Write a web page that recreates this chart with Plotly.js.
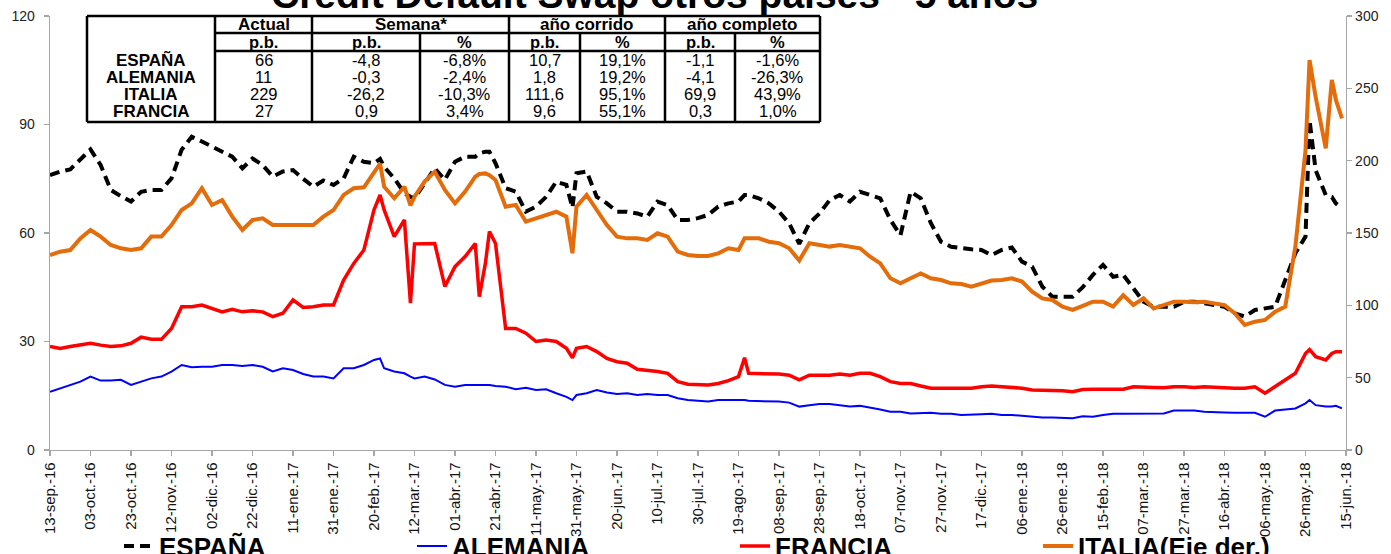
<!DOCTYPE html>
<html>
<head>
<meta charset="utf-8">
<script src="https://cdn.plot.ly/plotly-3.0.1.min.js"></script>
<style>
  html, body { margin: 0; padding: 0; background: #fff; overflow: hidden; }
  #chart { width: 1391px; height: 554px; }
</style>
</head>
<body>
<div id="chart"></div>
<script>
// ---------------- DATA ----------------
var dates = [
"2016-09-13","2016-09-18","2016-09-23","2016-09-28","2016-10-03","2016-10-08","2016-10-13","2016-10-18","2016-10-23","2016-10-28",
"2016-11-02","2016-11-07","2016-11-12","2016-11-17","2016-11-22","2016-11-27","2016-12-02","2016-12-07","2016-12-12","2016-12-17",
"2016-12-22","2016-12-27","2017-01-01","2017-01-06","2017-01-11","2017-01-16","2017-01-21","2017-01-26","2017-01-31","2017-02-05",
"2017-02-10","2017-02-15","2017-02-20","2017-02-23","2017-02-25","2017-03-02","2017-03-07","2017-03-10","2017-03-12","2017-03-17",
"2017-03-22","2017-03-27","2017-04-01","2017-04-06","2017-04-11","2017-04-13","2017-04-16","2017-04-18","2017-04-21","2017-04-26",
"2017-05-01","2017-05-06","2017-05-11","2017-05-16","2017-05-21","2017-05-26","2017-05-29","2017-05-31","2017-06-05","2017-06-10",
"2017-06-15","2017-06-20","2017-06-25","2017-06-30","2017-07-05","2017-07-10","2017-07-15","2017-07-20","2017-07-25","2017-07-30",
"2017-08-04","2017-08-09","2017-08-14","2017-08-19","2017-08-22","2017-08-24","2017-08-29","2017-09-03","2017-09-08","2017-09-13",
"2017-09-18","2017-09-23","2017-09-28","2017-10-03","2017-10-08","2017-10-13","2017-10-18","2017-10-23","2017-10-28","2017-11-02",
"2017-11-07","2017-11-12","2017-11-17","2017-11-22","2017-11-27","2017-12-02","2017-12-07","2017-12-12","2017-12-17","2017-12-22",
"2017-12-27","2018-01-01","2018-01-06","2018-01-11","2018-01-16","2018-01-21","2018-01-26","2018-01-31","2018-02-05","2018-02-10",
"2018-02-15","2018-02-20","2018-02-25","2018-03-02","2018-03-07","2018-03-12","2018-03-17","2018-03-22","2018-03-27","2018-04-01",
"2018-04-06","2018-04-11","2018-04-16","2018-04-21","2018-04-26","2018-05-01","2018-05-06","2018-05-11","2018-05-16","2018-05-21",
"2018-05-26","2018-05-28","2018-05-31","2018-06-05","2018-06-08","2018-06-10","2018-06-13"
];

var espana = [
76, 77, 77.6, 80.2, 83.1, 78.8, 71.9, 70.2, 68.7, 71.4,
71.9, 71.9, 75.1, 83, 86.6, 85.3, 83.9, 82.5, 81.1, 77.9,
80.6, 78.8, 75.6, 77, 77.4, 75, 72.8, 74.5, 73.3, 75.1,
81.1, 79.7, 79.3, 80.5, 78.3, 75.1, 71, 70, 69.6, 73.7,
77.9, 74.7, 79.7, 81.1, 81.1, 82, 82.5, 82.5, 79.3, 72.4,
71.4, 65.9, 67.3, 70, 74.2, 73.3, 67, 76.5, 77, 70,
68.2, 65.9, 65.9, 65.4, 64.5, 68.7, 67.7, 63.6, 63.6, 64.1,
65, 67.3, 68.2, 68.7, 70.5, 70.5, 69.6, 68.2, 65.9, 62.7,
57, 62.7, 65.4, 69.1, 70.5, 68.7, 71.4, 70.5, 69.6, 63.6,
59.4, 71.4, 69.6, 62.7, 57.6, 56.2, 55.8, 55.5, 55.3, 53.9,
55.3, 56, 52.1, 50.7, 45.2, 42.4, 42.4, 42.4, 45, 48.4,
51.2, 47.9, 48.4, 44.7, 41, 39.6, 39.6, 39.6, 41, 41,
40.6, 40.1, 39.6, 37.8, 36.9, 38.7, 39.2, 39.6, 47, 54.4,
59, 91.2, 77.4, 70.5, 70, 68.2, 66.8
];

var alemania = [
16.1, 17.1, 18, 18.9, 20.3, 19.2, 19.2, 19.4, 18, 18.9,
19.8, 20.3, 21.7, 23.5, 22.9, 23, 23, 23.5, 23.5, 23.2,
23.5, 23, 21.7, 22.6, 22.1, 21, 20.3, 20.3, 19.8, 22.6,
22.6, 23.5, 24.9, 25.3, 22.6, 21.7, 21.2, 20.3, 19.8, 20.3,
19.5, 18, 17.5, 18, 18, 18, 18.2, 18, 17.7, 17.5,
16.8, 17.2, 16.6, 16.8, 15.7, 14.7, 13.8, 15.2, 15.7, 16.6,
15.9, 15.5, 15.7, 15.2, 15.5, 15.2, 15.2, 14.3, 13.8, 13.6,
13.4, 13.8, 13.8, 14, 13.8, 13.6, 13.6, 13.6, 13.4, 13.1,
12, 12.4, 12.7, 12.7, 12.4, 12, 12.2, 11.8, 11.2, 10.6,
10.6, 10.1, 10.1, 10.3, 10, 10, 9.7, 9.7, 9.9, 10,
9.7, 9.7, 9.4, 9.2, 9, 9, 8.8, 8.8, 9.3, 9.2,
9.7, 10, 10, 10, 10.1, 10.1, 10.1, 10.9, 10.9, 10.9,
10.6, 10.6, 10.4, 10.3, 10.3, 10.3, 9.2, 10.9, 11.2, 11.5,
12.9, 13.8, 12.4, 12, 12, 12.2, 11.5
];

var francia = [
28.6, 28.1, 28.6, 29, 29.5, 29, 28.6, 28.8, 29.5, 31.2,
30.6, 30.6, 33.6, 39.6, 39.6, 40.1, 39.2, 38.2, 38.9, 38.2,
38.5, 38.2, 36.9, 37.8, 41.5, 39.4, 39.6, 40.1, 40.1, 47,
51.6, 55.3, 66.4, 70.5, 66.4, 59, 63.6, 40.6, 57, 57.1,
57.1, 45.2, 50.7, 53.5, 57.1, 42.4, 51.6, 60.4, 57.1, 33.6,
33.6, 32.3, 30, 30.4, 30, 28.1, 25.5, 28.1, 28.6, 27.2,
25.3, 24.4, 24, 22.3, 22.1, 21.7, 21.2, 18.9, 18.2, 18,
18, 18.4, 19.2, 20.3, 25.5, 21.2, 21.2, 21.2, 21, 20.7,
19.4, 20.7, 20.7, 20.7, 21, 20.7, 21.2, 21.2, 20.3, 18.9,
18.4, 18.4, 17.7, 17.1, 17.1, 17.1, 17.1, 17.1, 17.5, 17.7,
17.5, 17.3, 17.1, 16.6, 16.6, 16.6, 16.4, 16.1, 16.7, 16.8,
16.8, 16.6, 16.8, 17.5, 17.5, 17.3, 17.2, 17.5, 17.5, 17.3,
17.5, 17.3, 17.3, 17.1, 17.1, 17.5, 15.7, 17.5, 19.4, 21.2,
26.7, 27.8, 25.8, 24.9, 26.7, 27.2, 27.2
];

var italia = [
134.8, 137.1, 138.2, 146.3, 152.1, 147.5, 141.7, 139.4, 138.2, 139.4,
147.5, 147.5, 155.5, 165.9, 170.5, 181, 169.4, 172.8, 161.3, 152.1,
159, 160.1, 155.5, 155.5, 155.5, 156, 155.5, 161.3, 165.9, 176.3,
180.9, 181.6, 192.4, 198, 182, 174, 182, 169, 175.1, 185.5,
192.4, 179.7, 170.5, 178.6, 188.9, 190.8, 191.2, 190, 186.6, 168.2,
169.4, 157.8, 160.1, 162.4, 164.7, 161.3, 136, 168.2, 176.3, 165.9,
155.5, 147.5, 146.3, 146.3, 145.2, 149.8, 147.5, 137.1, 134.8, 134.1,
134.1, 135.9, 139.4, 138.2, 146.3, 146.3, 146.3, 144, 142.9, 139.4,
131, 142.9, 141.7, 140.6, 141.7, 140.6, 139.4, 133.6, 129, 118.7,
115.2, 118.7, 122.1, 118.7, 117.5, 115.2, 114.7, 112.9, 115.2, 117.1,
117.5, 118.7, 116.4, 109.4, 104.8, 103.7, 99.1, 96.8, 99.6, 102.5,
102.5, 99.1, 107.1, 100.2, 104.8, 97.9, 100.2, 102.5, 102.5, 102.1,
102.5, 101.4, 100.2, 94.5, 86.4, 88.7, 89.9, 95.6, 99.1, 140.6,
207, 269.6, 244, 208.5, 255.8, 242, 229.3
];

var seriesNames = ["ESPAÑA", "ALEMANIA", "FRANCIA", "ITALIA(Eje der.)"];

var tickDates = [
"2016-09-13","2016-10-03","2016-10-23","2016-11-12","2016-12-02","2016-12-22","2017-01-11","2017-01-31","2017-02-20",
"2017-03-12","2017-04-01","2017-04-21","2017-05-11","2017-05-31","2017-06-20","2017-07-10","2017-07-30","2017-08-19",
"2017-09-08","2017-09-28","2017-10-18","2017-11-07","2017-11-27","2017-12-17","2018-01-06","2018-01-26","2018-02-15",
"2018-03-07","2018-03-27","2018-04-16","2018-05-06","2018-05-26","2018-06-15"
];
var tickLabels = [
"13-sep.-16","03-oct.-16","23-oct.-16","12-nov.-16","02-dic.-16","22-dic.-16","11-ene.-17","31-ene.-17","20-feb.-17",
"12-mar.-17","01-abr.-17","21-abr.-17","11-may.-17","31-may.-17","20-jun.-17","10-jul.-17","30-jul.-17","19-ago.-17",
"08-sep.-17","28-sep.-17","18-oct.-17","07-nov.-17","27-nov.-17","17-dic.-17","06-ene.-18","26-ene.-18","15-feb.-18",
"07-mar.-18","27-mar.-18","16-abr.-18","06-may.-18","26-may.-18","15-jun.-18"
];

var chartTitle = "Credit Default Swap otros países - 5 años";

// table
var headerTop = ["Actual", "Semana*", "año corrido", "año completo"];
var headerSub = ["p.b.", "p.b.", "%", "p.b.", "%", "p.b.", "%"];
var tableRows = ["ESPAÑA", "ALEMANIA", "ITALIA", "FRANCIA"];
var actualPb = ["66", "11", "229", "27"];
var semanaPb = ["-4,8", "-0,3", "-26,2", "0,9"];
var semanaPct = ["-6,8%", "-2,4%", "-10,3%", "3,4%"];
var corridoPb = ["10,7", "1,8", "111,6", "9,6"];
var corridoPct = ["19,1%", "19,2%", "95,1%", "55,1%"];
var completoPb = ["-1,1", "-4,1", "69,9", "0,3"];
var completoPct = ["-1,6%", "-26,3%", "43,9%", "1,0%"];

// ---------------- LAYOUT HELPERS ----------------
var W = 1391, H = 554;
var M = {l: 50, r: 45, t: 16, b: 104};
var PW = W - M.l - M.r, PH = H - M.t - M.b;
function px(x) { return (x - M.l) / PW; }
function py(y) { return (H - M.b - y) / PH; }

var FONT = "Liberation Sans, Arial, Helvetica, sans-serif";

var traces = [
  {x: dates, y: espana, name: seriesNames[0], type: "scatter", mode: "lines",
   line: {color: "#000000", width: 4, dash: "10px,6px"}, yaxis: "y", legend: "legend"},
  {x: dates, y: alemania, name: seriesNames[1], type: "scatter", mode: "lines",
   line: {color: "#0000FF", width: 2}, yaxis: "y", legend: "legend2"},
  {x: dates, y: francia, name: seriesNames[2], type: "scatter", mode: "lines",
   line: {color: "#FF0000", width: 3.5}, yaxis: "y", legend: "legend3"},
  {x: dates, y: italia, name: seriesNames[3], type: "scatter", mode: "lines",
   line: {color: "#E46C0A", width: 4}, yaxis: "y2", legend: "legend4"}
];

// table shapes & annotations
var shapes = [];
var annotations = [];
function hline(y, x0, x1) {
  shapes.push({type: "line", xref: "paper", yref: "paper", x0: px(x0), x1: px(x1), y0: py(y), y1: py(y),
               line: {color: "#000", width: 2.5}});
}
function vline(x, y0, y1) {
  shapes.push({type: "line", xref: "paper", yref: "paper", x0: px(x), x1: px(x), y0: py(y0), y1: py(y1),
               line: {color: "#000", width: 2.5}});
}
shapes.push({type: "rect", xref: "paper", yref: "paper", x0: px(87), x1: px(820), y0: py(122), y1: py(16),
             fillcolor: "#fff", line: {width: 0}, layer: "below"});
var tL = 87, tR = 820, tT = 16, tH1 = 33, tH2 = 51, tB = 122;
hline(tT, tL, tR); hline(tH1, 215, tR); hline(tH2, 215, tR); hline(tB, tL, tR);
[tL, 215, 312, 509, 665, tR].forEach(function (x) { vline(x, tT, tB); });
[420, 580, 735].forEach(function (x) { vline(x, tH1, tB); });

function txt(s, x, y, bold, size) {
  annotations.push({text: bold ? "<b>" + s + "</b>" : s, xref: "paper", yref: "paper",
    x: px(x), y: py(y), xanchor: "center", yanchor: "middle", showarrow: false,
    borderpad: 0, font: {family: FONT, size: size, color: "#000"}});
}
var topCenters = [263.5, 410.5, 587, 742.5];
headerTop.forEach(function (s, i) { txt(s, topCenters[i], 24.5, true, 17); });
var colCenters = [263.5, 366, 464.5, 544.5, 622.5, 700, 777.5];
headerSub.forEach(function (s, i) { txt(s, colCenters[i], 42, true, 16.5); });
var rowY = [60, 77, 94, 111];
var cols = [actualPb, semanaPb, semanaPct, corridoPb, corridoPct, completoPb, completoPct];
tableRows.forEach(function (r, j) {
  txt(r, 151, rowY[j], true, 17);
  cols.forEach(function (c, i) { txt(c[j], colCenters[i], rowY[j], false, 16.5); });
});

// chart title (partly above the top edge, as in the source)
annotations.push({text: "<b>" + chartTitle + "</b>", xref: "paper", yref: "paper",
  x: px(654), y: py(-6), xanchor: "center", yanchor: "middle", showarrow: false,
  font: {family: FONT, size: 39, color: "#000"}});

function legendAt(x) {
  return {orientation: "h", xref: "paper", yref: "paper", x: px(x), y: py(546),
          xanchor: "left", yanchor: "middle", bgcolor: "rgba(0,0,0,0)",
          font: {family: FONT, size: 26, color: "#000", weight: "bold"}};
}

var axisCommon = {
  showgrid: false, zeroline: false, showline: true, linecolor: "#A6A6A6", linewidth: 1.3,
  ticks: "outside", ticklen: 5, tickcolor: "#A6A6A6", tickwidth: 1.3
};

var layout = {
  width: W, height: H,
  margin: {l: M.l, r: M.r, t: M.t, b: M.b, autoexpand: false},
  paper_bgcolor: "#fff", plot_bgcolor: "#fff",
  xaxis: Object.assign({}, axisCommon, {
    type: "date", range: ["2016-09-13", "2018-06-15"],
    tickmode: "array", tickvals: tickDates, ticktext: tickLabels, tickangle: -90,
    tickfont: {family: FONT, size: 15, color: "#111"}
  }),
  yaxis: Object.assign({}, axisCommon, {
    range: [0, 120], dtick: 30, tick0: 0, ticklabelstandoff: 6,
    tickfont: {family: FONT, size: 14, color: "#222"}
  }),
  yaxis2: Object.assign({}, axisCommon, {
    range: [0, 300], dtick: 50, tick0: 0, overlaying: "y", side: "right",
    tickfont: {family: FONT, size: 14, color: "#222"}
  }),
  showlegend: true,
  legend: legendAt(119),
  legend2: legendAt(412),
  legend3: legendAt(735),
  legend4: legendAt(1038),
  shapes: shapes,
  annotations: annotations
};

Plotly.newPlot("chart", traces, layout, {displayModeBar: false, staticPlot: true});
</script>
</body>
</html>
